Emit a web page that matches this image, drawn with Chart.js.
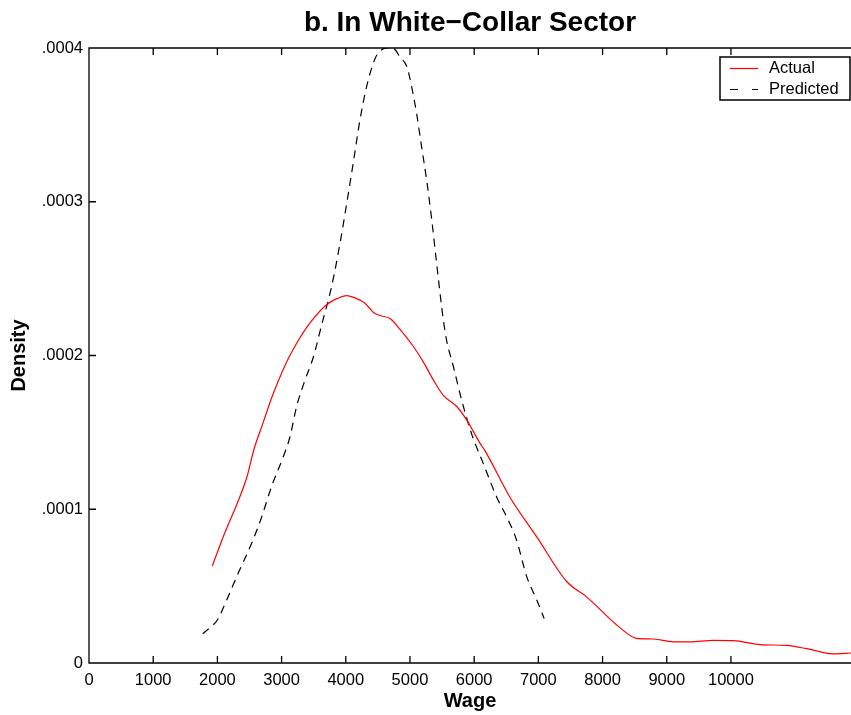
<!DOCTYPE html>
<html>
<head>
<meta charset="utf-8">
<title>b. In White-Collar Sector</title>
<script src="https://cdn.jsdelivr.net/npm/chart.js@4"></script>
<style>
  body { margin: 0; background: #fff; }
  canvas { display: block; }
</style>
</head>
<body>
<canvas id="chart" width="851" height="715"></canvas>
<script>
// Data
const actualWage = [1920, 2090, 2330, 2460, 2570, 2710, 2850, 2975, 3105, 3235, 3440, 3700, 3860, 4015, 4170, 4300, 4430, 4535, 4690, 4845, 5050, 5205, 5365, 5520, 5725, 5885, 6090, 6170, 6555, 6975, 7440, 7750, 8270, 8530, 8790, 9100, 9360, 9725, 10035, 10450, 10865, 11180, 11590, 11870];
const actualDensity = [6.3e-5, 8.2e-5, 1.06e-4, 1.21e-4, 1.39e-4, 1.56e-4, 1.73e-4, 1.86e-4, 1.98e-4, 2.08e-4, 2.21e-4, 2.33e-4, 2.37e-4, 2.39e-4, 2.37e-4, 2.34e-4, 2.28e-4, 2.26e-4, 2.24e-4, 2.17e-4, 2.06e-4, 1.96e-4, 1.84e-4, 1.74e-4, 1.67e-4, 1.58e-4, 1.43e-4, 1.38e-4, 1.08e-4, 8.2e-5, 5.3e-5, 4.3e-5, 2.3e-5, 1.6e-5, 1.56e-5, 1.38e-5, 1.38e-5, 1.47e-5, 1.45e-5, 1.2e-5, 1.14e-5, 9.3e-6, 6.0e-6, 6.5e-6];

const predWage = [1770, 1885, 2000, 2145, 2325, 2535, 2690, 2845, 3025, 3130, 3235, 3365, 3495, 3625, 3780, 3910, 4015, 4115, 4220, 4325, 4455, 4535, 4655, 4765, 4845, 4950, 5025, 5105, 5180, 5260, 5340, 5415, 5520, 5570, 5675, 5805, 5960, 6140, 6350, 6530, 6660, 6820, 6975, 7090];
const predDensity = [1.9e-5, 2.3e-5, 2.8e-5, 4.1e-5, 5.85e-5, 7.8e-5, 9.5e-5, 1.15e-4, 1.34e-4, 1.47e-4, 1.67e-4, 1.84e-4, 1.99e-4, 2.2e-4, 2.45e-4, 2.73e-4, 2.99e-4, 3.25e-4, 3.53e-4, 3.75e-4, 3.93e-4, 3.98e-4, 4.0e-4, 3.99e-4, 3.94e-4, 3.88e-4, 3.75e-4, 3.57e-4, 3.36e-4, 3.14e-4, 2.88e-4, 2.6e-4, 2.23e-4, 2.1e-4, 1.93e-4, 1.71e-4, 1.49e-4, 1.3e-4, 1.08e-4, 9.3e-5, 8.0e-5, 5.6e-5, 4.1e-5, 2.9e-5];

const xTickValues = [0, 1000, 2000, 3000, 4000, 5000, 6000, 7000, 8000, 9000, 10000];
const yTickValues = [0, 0.0001, 0.0002, 0.0003, 0.0004];
const yTickLabels = ['0', '.0001', '.0002', '.0003', '.0004'];

const FONT = "'Liberation Sans', Arial, Helvetica, sans-serif";

function toPoints(xs, ys) {
    return xs.map((x, i) => ({ x: x, y: ys[i] }));
}

// Frame, inward tick marks and the boxed legend
const framePlugin = {
    id: 'frame',
    afterDraw(chart) {
        const ctx = chart.ctx;
        const a = chart.chartArea;
        const xs = chart.scales.x;
        const ys = chart.scales.y;
        const tick = 7;
        ctx.save();
        ctx.strokeStyle = '#000';
        ctx.lineWidth = 1.3;
        ctx.beginPath();
        ctx.moveTo(a.right + 2, a.top);
        ctx.lineTo(a.left, a.top);
        ctx.lineTo(a.left, a.bottom);
        ctx.lineTo(a.right + 2, a.bottom);
        xTickValues.forEach(v => {
            const px = xs.getPixelForValue(v);
            ctx.moveTo(px, a.bottom);
            ctx.lineTo(px, a.bottom - tick);
            ctx.moveTo(px, a.top);
            ctx.lineTo(px, a.top + tick);
        });
        yTickValues.forEach(v => {
            const py = ys.getPixelForValue(v);
            ctx.moveTo(a.left, py);
            ctx.lineTo(a.left + tick, py);
        });
        ctx.stroke();

        // legend box
        const bx = 720, by = 57, bw = 130, bh = 43;
        ctx.fillStyle = '#fff';
        ctx.fillRect(bx, by, bw, bh);
        ctx.lineWidth = 1.5;
        ctx.strokeRect(bx, by, bw, bh);
        ctx.font = '16.5px ' + FONT;
        ctx.textBaseline = 'middle';
        chart.data.datasets.forEach((ds, i) => {
            const ly = by + 11.5 + i * 21;
            ctx.strokeStyle = ds.borderColor;
            ctx.lineWidth = 1.2;
            ctx.setLineDash(ds.borderDash.length ? [8, 14] : []);
            ctx.beginPath();
            ctx.moveTo(bx + 10, ly);
            ctx.lineTo(bx + 38, ly);
            ctx.stroke();
            ctx.setLineDash([]);
            ctx.fillStyle = '#000';
            ctx.fillText(ds.label, bx + 49, ly);
        });
        ctx.restore();
    }
};

const chart = new Chart(document.getElementById('chart'), {
    type: 'line',
    data: {
        datasets: [
            {
                label: 'Actual',
                data: toPoints(actualWage, actualDensity),
                borderColor: '#ff0000',
                borderWidth: 1.2,
                borderDash: [],
                pointRadius: 0,
                cubicInterpolationMode: 'monotone',
                fill: false
            },
            {
                label: 'Predicted',
                data: toPoints(predWage, predDensity),
                borderColor: '#000000',
                borderWidth: 1.2,
                borderDash: [8, 6],
                pointRadius: 0,
                cubicInterpolationMode: 'monotone',
                fill: false
            }
        ]
    },
    options: {
        responsive: false,
        animation: false,
        layout: { padding: 0 },
        plugins: {
            legend: { display: false },
            tooltip: { enabled: false },
            title: {
                display: true,
                fullSize: false,
                text: 'b. In White\u2212Collar Sector',
                color: '#000',
                font: { family: FONT, size: 28, weight: 'bold' },
                padding: { top: 6, bottom: 8.4 }
            }
        },
        scales: {
            x: {
                type: 'linear',
                min: 0,
                max: 11870,
                grid: { display: false, drawTicks: false },
                border: { display: false },
                afterBuildTicks: scale => {
                    scale.ticks = xTickValues.map(v => ({ value: v }));
                },
                afterFit: scale => { scale.height = 52; },
                ticks: {
                    autoSkip: false,
                    maxRotation: 0,
                    padding: 8,
                    color: '#000',
                    font: { family: FONT, size: 16.5 },
                    callback: v => String(v)
                },
                title: {
                    display: true,
                    text: 'Wage',
                    color: '#000',
                    font: { family: FONT, size: 20, weight: 'bold' },
                    padding: { top: 0, bottom: 2 }
                }
            },
            y: {
                min: 0,
                max: 0.0004,
                grid: { display: false, drawTicks: false },
                border: { display: false },
                afterBuildTicks: scale => {
                    scale.ticks = yTickValues.map(v => ({ value: v }));
                },
                afterFit: scale => { scale.width = 89; },
                ticks: {
                    autoSkip: false,
                    padding: 6,
                    color: '#000',
                    font: { family: FONT, size: 16.5 },
                    callback: (v) => yTickLabels[yTickValues.indexOf(v)]
                },
                title: {
                    display: true,
                    text: 'Density',
                    color: '#000',
                    font: { family: FONT, size: 20, weight: 'bold' },
                    padding: { top: 7, bottom: 0 }
                }
            }
        }
    },
    plugins: [framePlugin]
});
</script>
</body>
</html>
